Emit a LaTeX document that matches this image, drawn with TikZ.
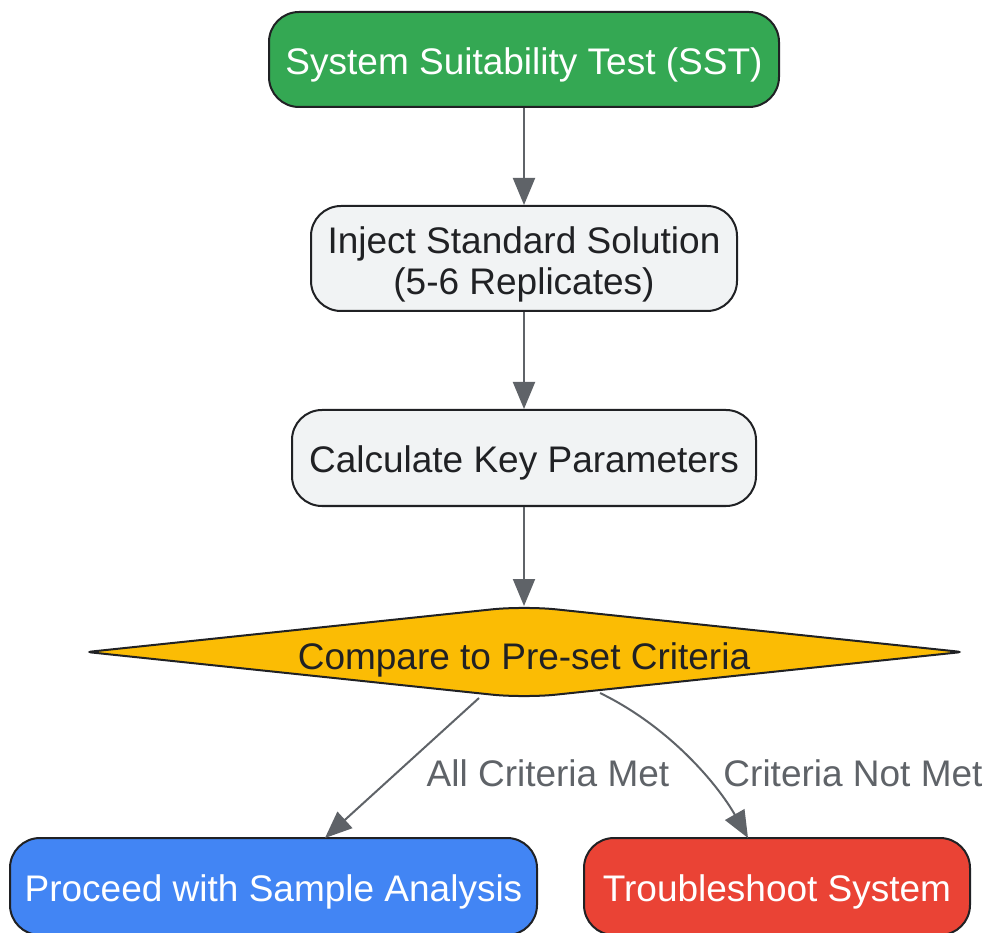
\documentclass[tikz,border=0pt]{standalone}
\usepackage{fontspec}
\setmainfont{Liberation Sans}
\usetikzlibrary{arrows.meta,calc}
\definecolor{cgreen}{HTML}{34A853}
\definecolor{cgrayfill}{HTML}{F1F3F4}
\definecolor{cyellow}{HTML}{FBBC04}
\definecolor{cblue}{HTML}{4285F4}
\definecolor{cred}{HTML}{EA4335}
\definecolor{cline}{HTML}{5F6368}
\definecolor{cborder}{HTML}{202124}
\begin{document}
\begin{tikzpicture}[x=1pt,y=-1pt,
  box/.style={draw=cborder, line width=2pt, rounded corners=30pt, inner sep=0pt,
    font=\fontsize{37}{41}\selectfont, align=center, text height=30pt, text depth=0pt},
  flow/.style={draw=cline, line width=2pt, -{Triangle[length=27pt,width=22pt]}},
  elabel/.style={text=cline, font=\fontsize{37}{41}\selectfont, inner sep=0pt}]
\useasboundingbox (0,0) rectangle (989,933);

\node[box, fill=cgreen, text=white, minimum width=510pt, minimum height=95pt] (sst) at (524,59.5) {System Suitability Test (SST)};
\node[box, fill=cgrayfill, text=cborder, minimum width=426pt, minimum height=105pt, text height=72pt] (inject) at (524,258.5) {Inject Standard Solution\\(5-6 Replicates)};
\node[box, fill=cgrayfill, text=cborder, minimum width=464pt, minimum height=96pt] (calc) at (524,458) {Calculate Key Parameters};

% diamond
\draw[draw=cborder, fill=cyellow, line width=2pt]
  (305.5,629) [rounded corners=32pt] -- (524,606) -- (743,629)
  [rounded corners=5pt] -- (962,652) -- (743,675)
  [rounded corners=32pt] -- (524,698) -- (305.5,675)
  [rounded corners=5pt] -- (87,652) -- cycle;
\node[text=cborder, font=\fontsize{37}{41}\selectfont, inner sep=0pt, text height=28pt, text depth=0pt] (dia) at (524,655) {Compare to Pre-set Criteria};
\coordinate (diatop) at (524,606);
\coordinate (dialeft) at (479,698);
\coordinate (diaright) at (600,693);

\node[box, fill=cblue, text=white, minimum width=527pt, minimum height=97pt] (proceed) at (273.5,886.5) {Proceed with Sample Analysis};
\node[box, fill=cred, text=white, minimum width=386pt, minimum height=97pt] (trouble) at (777,886.5) {Troubleshoot System};
\coordinate (pin) at (325,838);
\coordinate (tin) at (748,838);

\draw[flow] (sst) -- (inject);
\draw[flow] (inject) -- (calc);
\draw[flow] (calc) -- (diatop);
\draw[flow] (dialeft) -- (pin);
\draw[flow] (diaright) .. controls (670,727) and (718,785) .. (tin);

\node[elabel] (lmet) at (548,773) {All Criteria Met};
\node[elabel] (lnot) at (853,773) {Criteria Not Met};
\end{tikzpicture}
\end{document}
